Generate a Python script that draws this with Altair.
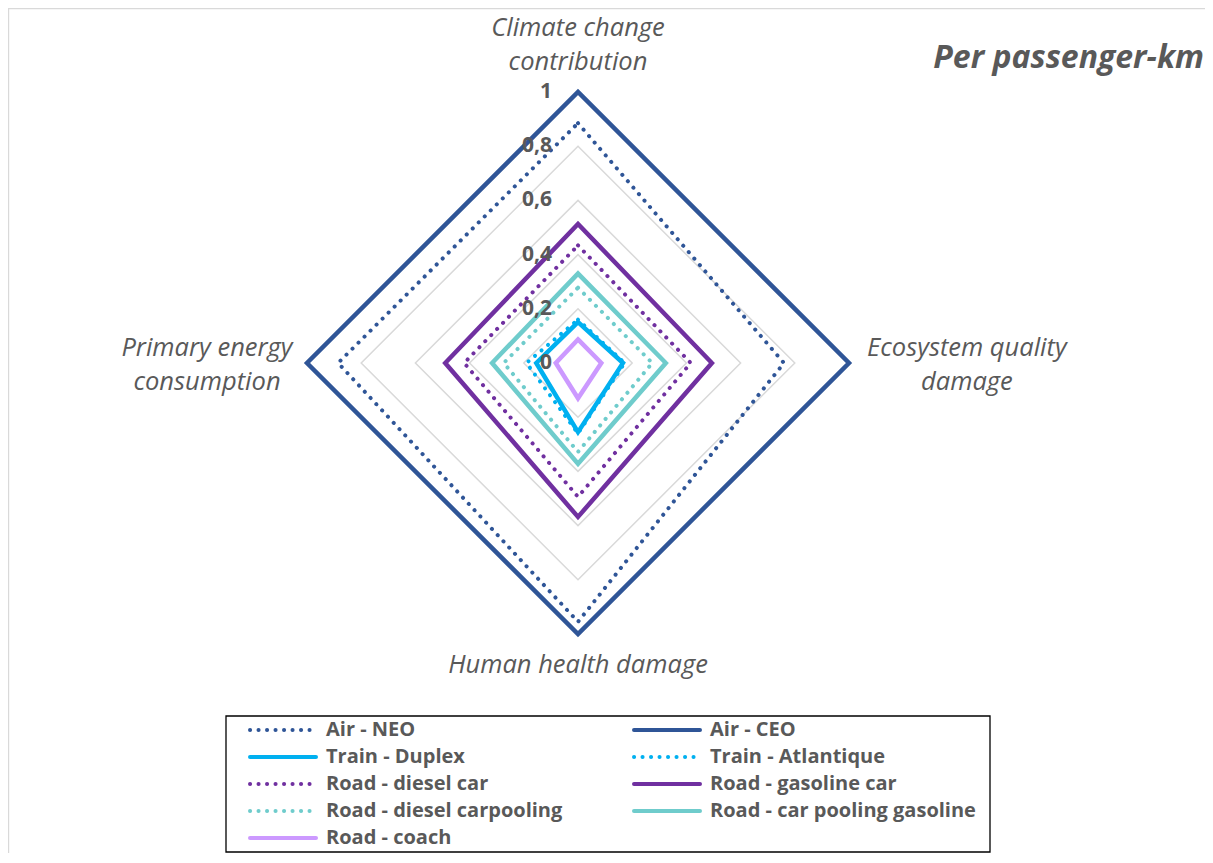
import altair as alt
import pandas as pd

# ---------------- data ----------------
AXIS_NAMES = ["Climate change contribution", "Ecosystem quality damage",
              "Human health damage", "Primary energy consumption"]
AXIS_TEXT = ["Climate change\ncontribution", "Ecosystem quality\ndamage",
             "Human health damage", "Primary energy\nconsumption"]

SERIES = ["Air - NEO", "Air - CEO", "Train - Duplex", "Train - Atlantique",
          "Road - diesel car", "Road - gasoline car",
          "Road - diesel carpooling", "Road - car pooling gasoline", "Road - coach"]
STYLES = ["dotted", "solid", "solid", "dotted", "dotted", "solid", "dotted", "solid", "solid"]
COLORS = ["#2F5597", "#2F5597", "#00B0F0", "#00B0F0", "#7030A0", "#7030A0",
          "#6FCCCC", "#6FCCCC", "#CC99FF"]

# values in axis order: climate, ecosystem, human health, primary energy
air_neo = [0.885, 0.76, 0.955, 0.885]
air_ceo = [1.0, 1.0, 1.0, 1.0]
train_duplex = [0.151, 0.166, 0.255, 0.154]
train_atlantique = [0.16, 0.172, 0.26, 0.19]
road_diesel_car = [0.434, 0.416, 0.494, 0.42]
road_gasoline_car = [0.513, 0.494, 0.568, 0.49]
road_diesel_carpooling = [0.278, 0.274, 0.328, 0.274]
road_carpool_gasoline = [0.33, 0.324, 0.372, 0.317]
road_coach = [0.087, 0.086, 0.13, 0.082]
VALUES = [air_neo, air_ceo, train_duplex, train_atlantique, road_diesel_car,
          road_gasoline_car, road_diesel_carpooling, road_carpool_gasoline, road_coach]

TICKS = [0, 0.2, 0.4, 0.6, 0.8, 1.0]
TICK_LABELS = ["0", "0,2", "0,4", "0,6", "0,8", "1"]
TITLE = "Per passenger-km"

# ---------------- layout ----------------
W, H = 1197, 845
CX, CY, R = 570, 355, 271
XDOM = [-CX / R, (W - CX) / R]
YDOM = [-(H - CY) / R, CY / R]
# anchor of the first line of each axis label, in radar units
LABEL_X = [0.0, 1.435, 0.0, -1.369]
LABEL_Y = [1.236, 0.055, -1.114, 0.055]
FONT = "Open Sans"
GREY = "#595959"

# ---------------- tables ----------------
rows = []
for s, st, vals in zip(SERIES, STYLES, VALUES):
    n = 6 if st == "solid" else 5
    for k in range(n):
        rows.append({"series": s, "style": st, "k": k, "value": vals[k % 4]})
lines_df = pd.DataFrame(rows)

grid_rows = []
for t in TICKS[1:]:
    for k in range(6):
        grid_rows.append({"ring": t, "k": k, "value": t})
grid_df = pd.DataFrame(grid_rows)

tick_df = pd.DataFrame({"value": TICKS, "label": TICK_LABELS})
axis_df = pd.DataFrame({"name": AXIS_NAMES, "text": AXIS_TEXT,
                        "lx": LABEL_X, "ly": LABEL_Y})
legend_df = pd.DataFrame({"series": SERIES, "style": STYLES, "i": list(range(len(SERIES)))})
one = pd.DataFrame({"d": [0]})

xs = alt.Scale(domain=XDOM, nice=False, zero=False)
ys = alt.Scale(domain=YDOM, nice=False, zero=False)
color = alt.Color("series:N", scale=alt.Scale(domain=SERIES, range=COLORS), legend=None)

polar = dict(px="datum.value * sin(datum.k * PI / 2)",
             py="datum.value * cos(datum.k * PI / 2)")

frame_top = alt.Chart(one).mark_rule(color="#D9D9D9", strokeWidth=1.2).encode(
    x=alt.value(0), x2=alt.value(W), y=alt.value(0.6))
frame_left = alt.Chart(one).mark_rule(color="#D9D9D9", strokeWidth=1.2).encode(
    x=alt.value(0.6), y=alt.value(0), y2=alt.value(H))

grid = alt.Chart(grid_df).transform_calculate(**polar).mark_line(
    color="#D9D9D9", strokeWidth=1.5, strokeJoin="miter").encode(
    x=alt.X("px:Q", scale=xs, axis=None),
    y=alt.Y("py:Q", scale=ys, axis=None),
    detail="ring:N", order="k:Q")

solid = alt.Chart(lines_df).transform_filter("datum.style == 'solid'").transform_calculate(
    **polar).mark_line(strokeWidth=4.5, strokeJoin="miter", strokeCap="butt").encode(
    x=alt.X("px:Q", scale=xs, axis=None),
    y=alt.Y("py:Q", scale=ys, axis=None),
    color=color, order="k:Q")

dotted = alt.Chart(lines_df).transform_filter("datum.style == 'dotted'").transform_calculate(
    **polar).mark_line(strokeWidth=4, strokeDash=[0.1, 8.4], strokeCap="round",
                       strokeJoin="round").encode(
    x=alt.X("px:Q", scale=xs, axis=None),
    y=alt.Y("py:Q", scale=ys, axis=None),
    color=color, order="k:Q")

ticks = alt.Chart(tick_df).mark_text(
    align="right", baseline="middle", dx=-26, font=FONT, fontSize=21,
    fontWeight="bold", color=GREY).encode(
    x=alt.datum(0, scale=xs), y=alt.Y("value:Q", scale=ys), text="label:N")

axis_labels = alt.Chart(axis_df).mark_text(
    align="center", baseline="middle", font=FONT, fontSize=25.5, fontStyle="italic",
    color=GREY, lineBreak="\n", lineHeight=34).encode(
    x=alt.X("lx:Q", scale=xs), y=alt.Y("ly:Q", scale=ys), text="text:N")

title = alt.Chart(one).mark_text(
    align="right", baseline="middle", font=FONT, fontSize=32, fontStyle="italic",
    fontWeight="bold", color=GREY).encode(
    x=alt.value(W - 1), y=alt.value(50), text=alt.value(TITLE))

leg_calc = dict(sx="242 + (datum.i % 2) * 384",
                sx2="242 + (datum.i % 2) * 384 + 66",
                tx="242 + (datum.i % 2) * 384 + 76",
                sy="722 + floor(datum.i / 2) * 27")

leg_box = alt.Chart(one).mark_rect(fillOpacity=0, stroke="black", strokeWidth=1.3).encode(
    x=alt.value(218), x2=alt.value(982), y=alt.value(708), y2=alt.value(844))

leg_sym = alt.Chart(legend_df).transform_calculate(**leg_calc).mark_rule(
    strokeCap="round", strokeWidth=4).encode(
    x=alt.X("sx:Q", scale=None), x2="sx2:Q",
    y=alt.Y("sy:Q", scale=None), color=color,
    strokeDash=alt.StrokeDash("style:N", scale=alt.Scale(
        domain=["solid", "dotted"], range=[[1, 0], [0.1, 8.4]]), legend=None))

leg_txt = alt.Chart(legend_df).transform_calculate(**leg_calc).mark_text(
    align="left", baseline="middle", font=FONT, fontSize=20, fontWeight="bold",
    color=GREY).encode(
    x=alt.X("tx:Q", scale=None), y=alt.Y("sy:Q", scale=None), text="series:N")

chart = alt.layer(frame_top, frame_left, grid, solid, dotted, ticks, axis_labels, title,
                  leg_box, leg_sym, leg_txt).properties(
    width=W, height=H, padding=0, autosize="none", background="white"
).configure_view(stroke=None)

chart.save("out.html", embed_options={"renderer": "svg", "actions": False})
